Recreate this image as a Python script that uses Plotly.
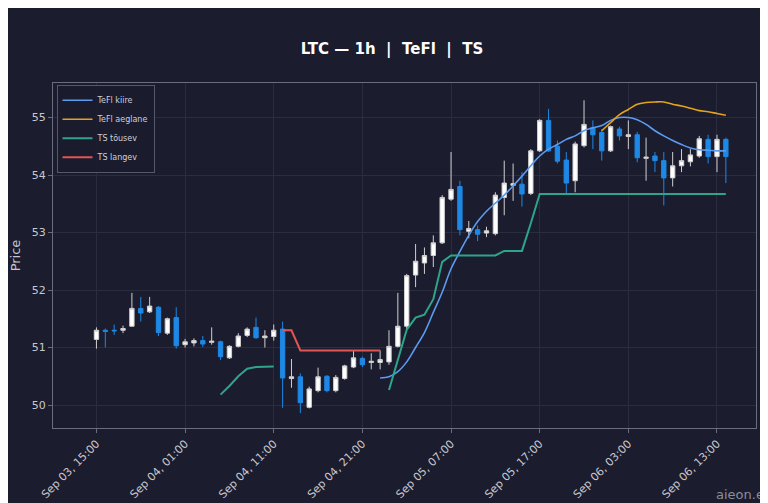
import pandas as pd
import plotly.graph_objects as go

times = pd.date_range("2025-09-03 15:00", periods=72, freq="h")

opens = [51.14, 51.30, 51.30, 51.30, 51.37, 51.68, 51.62, 51.70, 51.25, 51.52, 51.05, 51.08, 51.12, 51.09, 51.10,
         50.82, 51.02, 51.21, 51.35, 51.17, 51.19, 51.32, 50.46, 50.49, 49.96, 50.25, 50.50, 50.25, 50.46, 50.66,
         50.81, 50.74, 50.74, 50.75, 51.02, 51.37, 52.26, 52.47, 52.60, 52.82, 53.58, 53.80, 53.02, 53.05, 52.99,
         52.98, 53.61, 53.82, 53.84, 53.68, 54.42, 54.95, 54.50, 54.26, 53.90, 54.51, 54.82, 54.74, 54.42, 54.80,
         54.67, 54.70, 54.29, 54.33, 54.25, 53.95, 54.16, 54.23, 54.33, 54.62, 54.32, 54.62]
closes = [51.30, 51.28, 51.29, 51.33, 51.68, 51.60, 51.72, 51.26, 51.50, 51.03, 51.10, 51.12, 51.06, 51.11, 50.84,
          51.02, 51.20, 51.32, 51.17, 51.20, 51.30, 50.47, 50.49, 50.04, 50.28, 50.49, 50.25, 50.48, 50.68, 50.82,
          50.70, 50.76, 50.79, 51.02, 51.37, 52.25, 52.50, 52.60, 52.82, 53.61, 53.75, 53.05, 53.07, 52.97, 53.03,
          53.65, 53.86, 53.85, 53.67, 54.42, 54.95, 54.42, 54.24, 53.86, 54.54, 54.88, 54.70, 54.42, 54.84, 54.68,
          54.70, 54.30, 54.31, 54.25, 53.95, 54.16, 54.25, 54.35, 54.63, 54.32, 54.62, 54.32]
highs = [51.35, 51.33, 51.40, 51.38, 51.95, 51.88, 51.88, 51.72, 51.52, 51.70, 51.15, 51.16, 51.20, 51.35, 51.12,
         51.04, 51.25, 51.35, 51.52, 51.30, 51.40, 51.45, 50.80, 50.55, 50.32, 50.65, 50.52, 50.52, 50.70, 50.95,
         50.84, 50.90, 50.95, 51.30, 51.95, 52.28, 52.80, 52.74, 52.95, 53.65, 54.40, 53.90, 53.20, 53.12, 53.10,
         53.70, 54.25, 54.20, 54.05, 54.45, 54.97, 55.15, 54.60, 54.40, 54.58, 55.30, 54.95, 54.80, 54.86, 54.84,
         54.95, 54.75, 54.65, 54.40, 54.40, 54.40, 54.45, 54.45, 54.68, 54.70, 54.70, 54.65]
lows = [50.98, 51.00, 51.22, 51.25, 51.37, 51.45, 51.60, 51.20, 51.22, 50.98, 51.00, 51.02, 51.01, 51.05, 50.78,
        50.80, 51.00, 51.18, 51.15, 51.00, 51.12, 49.95, 50.30, 49.86, 49.94, 50.22, 50.22, 50.22, 50.44, 50.64,
        50.66, 50.62, 50.62, 50.70, 51.00, 51.30, 52.05, 52.28, 52.40, 52.80, 53.55, 52.95, 52.90, 52.85, 52.92,
        52.95, 53.30, 53.55, 53.45, 53.65, 54.40, 54.40, 54.20, 53.68, 53.70, 54.48, 54.45, 54.25, 54.40, 54.60,
        54.45, 54.22, 53.90, 54.05, 53.47, 53.80, 54.05, 54.15, 54.30, 54.20, 54.05, 53.86]

N = None
tefl_kiire = [N] * 32 + [50.47, 50.49, 50.58, 50.75, 51.00, 51.26, 51.61, 51.96, 52.37, 52.67, 52.95, 53.19,
                          53.37, 53.51, 53.65, 53.81, 53.98, 54.16, 54.33, 54.45, 54.53, 54.62, 54.68, 54.77,
                          54.82, 54.86, 54.95, 55.00, 55.00, 54.96, 54.88, 54.77, 54.68, 54.60, 54.53, 54.47,
                          54.44, 54.43, 54.42, 54.42]
tefl_aeglane = [N] * 57 + [54.77, 54.91, 55.05, 55.14, 55.23, 55.26, 55.27, 55.27, 55.23, 55.20, 55.16,
                           55.12, 55.10, 55.07, 55.04]
ts_tousev = [N] * 14 + [50.18, 50.33, 50.50, 50.63, 50.66, 50.67, 50.67] + [N] * 12 + \
            [50.26, 50.79, 51.31, 51.52, 51.57, 51.84, 52.49, 52.60, 52.60, 52.60, 52.60, 52.60, 52.60,
             52.68, 52.68, 52.68, 53.16] + [53.67] * 22
ts_langev = [N] * 21 + [51.30, 51.30] + [50.95] * 10 + [N] * 39

bg = "#1b1c2e"
grid = "#2a2c40"

fig = go.Figure()
fig.add_trace(go.Candlestick(
    x=times, open=opens, high=highs, low=lows, close=closes, showlegend=False,
    increasing=dict(line=dict(color="#d0d0d0", width=1), fillcolor="#ffffff"),
    decreasing=dict(line=dict(color="#1e88e5", width=1), fillcolor="#1e88e5"),
    whiskerwidth=0))
fig.add_trace(go.Scatter(x=times, y=tefl_kiire, mode="lines", name="TeFl kiire",
                         line=dict(color="#5b9bf0", width=1.6, shape="spline")))
fig.add_trace(go.Scatter(x=times, y=tefl_aeglane, mode="lines", name="TeFl aeglane",
                         line=dict(color="#e3a21a", width=1.6, shape="spline")))
fig.add_trace(go.Scatter(x=times, y=ts_tousev, mode="lines", name="TS tõusev",
                         line=dict(color="#2ea58a", width=2)))
fig.add_trace(go.Scatter(x=times, y=ts_langev, mode="lines", name="TS langev",
                         line=dict(color="#e05555", width=2)))

tickvals = pd.date_range("2025-09-03 15:00", "2025-09-06 13:00", freq="10h")
fig.update_layout(
    width=768, height=503,
    paper_bgcolor=bg, plot_bgcolor=bg,
    font=dict(family="DejaVu Sans", color="#c8c8d0", size=11),
    title=dict(text="<b>LTC — 1h  |  TeFl  |  TS</b>", x=0.5, y=0.93, xanchor="center",
               font=dict(size=15, color="#ffffff")),
    margin=dict(l=45, r=20, t=75, b=83),
    legend=dict(x=0.005, y=0.995, xanchor="left", yanchor="top", bgcolor="rgba(27,28,46,0.9)",
                bordercolor="#55576a", borderwidth=1, font=dict(size=8, color="#d0d0d8"),
                itemwidth=30, tracegroupgap=0),
    xaxis=dict(rangeslider=dict(visible=False), tickvals=tickvals, tickformat="%b %d, %H:%M",
               tickangle=-45, gridcolor=grid, showline=True, linecolor="#6a6c80", mirror=True,
               range=[times[0] - pd.Timedelta(hours=4.9), times[-1] + pd.Timedelta(hours=3.4)],
               ticks="outside", tickcolor="#6a6c80", ticklen=4, automargin=False),
    yaxis=dict(title=dict(text="Price", standoff=8), range=[49.6, 55.6], dtick=1, gridcolor=grid,
               showline=True, linecolor="#6a6c80", mirror=True, ticks="outside",
               tickcolor="#6a6c80", ticklen=4, zeroline=False, automargin=False),
)
fig.add_annotation(text="aieon.ee", xref="paper", yref="paper", x=1.025, y=-0.165,
                   xanchor="right", yanchor="top", showarrow=False,
                   font=dict(size=13, color="#8a8c9a"))
fig.write_html("out.html")
